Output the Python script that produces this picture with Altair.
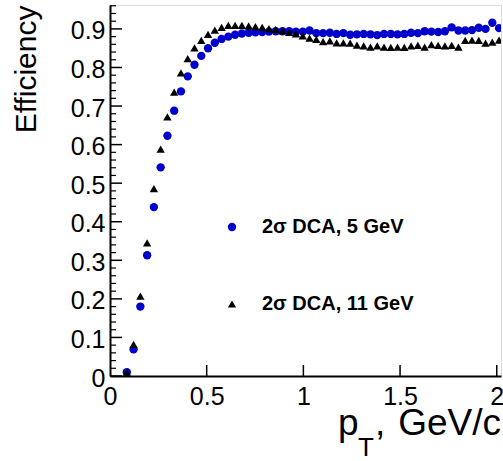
import altair as alt
import pandas as pd

# ---- data ----
pt = [0.087, 0.122, 0.157, 0.192, 0.227, 0.262, 0.297, 0.332, 0.367, 0.402,
      0.437, 0.472, 0.507, 0.542, 0.577, 0.612, 0.647, 0.682, 0.717, 0.752,
      0.787, 0.822, 0.857, 0.892, 0.927, 0.962, 0.997, 1.032, 1.067, 1.102,
      1.137, 1.172, 1.207, 1.242, 1.277, 1.312, 1.347, 1.382, 1.417, 1.452,
      1.487, 1.522, 1.557, 1.592, 1.627, 1.662, 1.697, 1.732, 1.767, 1.802,
      1.837, 1.872, 1.907, 1.942, 1.977, 2.012]

eff_5gev = [0.010, 0.069, 0.180, 0.313, 0.438, 0.541, 0.623, 0.688, 0.738, 0.777,
            0.807, 0.830, 0.850, 0.864, 0.874, 0.880, 0.885, 0.888, 0.890, 0.891,
            0.892, 0.893, 0.894, 0.894, 0.894, 0.893, 0.893, 0.896, 0.889, 0.889,
            0.890, 0.887, 0.889, 0.885, 0.886, 0.887, 0.886, 0.884, 0.887, 0.887,
            0.886, 0.887, 0.890, 0.889, 0.894, 0.893, 0.892, 0.894, 0.904, 0.896,
            0.896, 0.897, 0.903, 0.900, 0.916, 0.902]

eff_11gev = [0.010, 0.082, 0.207, 0.345, 0.486, 0.588, 0.672, 0.736, 0.786, 0.823,
             0.851, 0.870, 0.886, 0.897, 0.904, 0.909, 0.909, 0.909, 0.908, 0.906,
             0.904, 0.901, 0.898, 0.895, 0.891, 0.887, 0.882, 0.876, 0.873, 0.867,
             0.869, 0.864, 0.864, 0.863, 0.858, 0.856, 0.853, 0.856, 0.853, 0.852,
             0.853, 0.852, 0.856, 0.857, 0.853, 0.859, 0.857, 0.856, 0.857, 0.853,
             0.870, 0.871, 0.870, 0.863, 0.866, 0.871]

series_names = ["2σ DCA, 5 GeV", "2σ DCA, 11 GeV"]
x_ticks = [0, 0.5, 1, 1.5, 2]
x_major_marks = [0.5, 1, 1.5, 2]
y_ticks = [0, 0.1, 0.2, 0.3, 0.4, 0.5, 0.6, 0.7, 0.8, 0.9]
y_minor = [0.02, 0.04, 0.06, 0.08, 0.12, 0.14, 0.16, 0.18, 0.22, 0.24, 0.26, 0.28,
           0.32, 0.34, 0.36, 0.38, 0.42, 0.44, 0.46, 0.48, 0.52, 0.54, 0.56, 0.58,
           0.62, 0.64, 0.66, 0.68, 0.72, 0.74, 0.76, 0.78, 0.82, 0.84, 0.86, 0.88,
           0.92, 0.94, 0.96]

df = pd.DataFrame({
    "pt": pt + pt,
    "eff": eff_5gev + eff_11gev,
    "series": [series_names[0]] * len(pt) + [series_names[1]] * len(pt),
})

W, H = 391, 371
FONT = "Liberation Sans"

xs = alt.Scale(domain=[0, 2.022], nice=False, zero=False)
ys = alt.Scale(domain=[0, 0.962], nice=False, zero=False)

xaxis = alt.Axis(values=x_ticks, format="~g", title=None, ticks=False, tickSize=0,
                 grid=False, labelFont=FONT, labelFontSize=25, labelColor="black",
                 labelPadding=8, labelFlush=False, domainColor="black", domainWidth=2)
yaxis = alt.Axis(values=y_ticks, format="~g", title="Efficiency", ticks=False, tickSize=0,
                 grid=False, labelFont=FONT, labelFontSize=25, labelColor="black",
                 labelPadding=5, labelOffset=2, labelFlush=False,
                 domainColor="black", domainWidth=2,
                 titleFont=FONT, titleFontSize=30, titleFontWeight="normal",
                 titleColor="black", titleAngle=270, titleAlign="right",
                 titleBaseline="alphabetic", titleX=-75, titleY=0)

legend = alt.Legend(title=None, orient="none", legendX=112, legendY=212, padding=0,
                    labelFont=FONT, labelFontWeight="bold", labelFontSize=20,
                    labelColor="black", labelOffset=20, labelLimit=400,
                    symbolSize=70, symbolStrokeWidth=0, rowPadding=57)

points = alt.Chart(df).mark_point(filled=True, size=70, opacity=1, clip=True).encode(
    x=alt.X("pt:Q", scale=xs, axis=xaxis),
    y=alt.Y("eff:Q", scale=ys, axis=yaxis),
    color=alt.Color("series:N", sort=series_names,
                    scale=alt.Scale(domain=series_names, range=["#0000cc", "#000000"]),
                    legend=legend),
    shape=alt.Shape("series:N", sort=series_names,
                    scale=alt.Scale(domain=series_names, range=["circle", "triangle-up"]),
                    legend=legend),
)

ymaj = alt.Chart(pd.DataFrame({"v": y_ticks})).mark_rule(color="black", strokeWidth=1.5).encode(
    y=alt.Y("v:Q", scale=ys, axis=yaxis), x=alt.value(0), x2=alt.value(12))
ymin = alt.Chart(pd.DataFrame({"v": y_minor})).mark_rule(color="black", strokeWidth=1.2).encode(
    y=alt.Y("v:Q", scale=ys, axis=yaxis), x=alt.value(0), x2=alt.value(6))
xmaj = alt.Chart(pd.DataFrame({"v": x_major_marks})).mark_rule(color="black", strokeWidth=1.5).encode(
    x=alt.X("v:Q", scale=xs, axis=xaxis), y=alt.value(H), y2=alt.value(H - 11))


def label(txt, size, x, y, align="left"):
    return alt.Chart(pd.DataFrame({"t": [txt]})).mark_text(
        font=FONT, fontSize=size, align=align, baseline="alphabetic", color="black"
    ).encode(text="t:N", x=alt.value(x), y=alt.value(y))


title_p = label("p", 37, 228, 430)
title_T = label("T", 26, 248, 451)
title_comma = label(",", 37, 265, 430)
title_rest = label("GeV/c", 37, 391, 430, align="right")

chart = alt.layer(ymin, ymaj, xmaj, points, title_p, title_T, title_comma, title_rest).properties(
    width=W, height=H,
    autosize=alt.AutoSizeParams(type="none"),
    padding={"left": 110, "top": 5, "right": 2, "bottom": 85},
).configure_view(stroke="black", strokeWidth=1.5).configure(background="white")

chart.save("out.html", embed_options={"renderer": "svg", "actions": False})
